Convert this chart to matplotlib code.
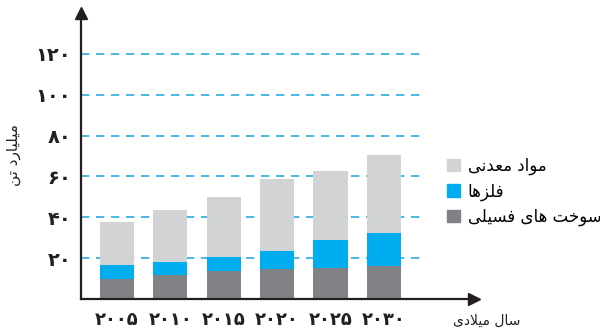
import matplotlib
matplotlib.use('Agg')
import matplotlib.pyplot as plt
from matplotlib.patches import Patch
import numpy as np

# values (billion tonnes)
years = ['2005', '2010', '2015', '2020', '2025', '2030']
fossil = [10.0, 11.6, 13.6, 14.7, 15.2, 16.0]
metals = [6.7, 6.4, 6.8, 9.0, 13.6, 16.4]
minerals = [21.2, 25.6, 29.7, 35.1, 34.1, 38.3]
yticks = [20, 40, 60, 80, 100, 120]

label_minerals = 'مواد معدنی'
label_metals = 'فلزها'
label_fossil = 'سوخت های فسیلی'
ylabel = 'میلیارد تن'
xlabel = 'سال میلادی'

c_fossil = '#808285'
c_metals = '#00AEEF'
c_minerals = '#D1D3D4'
c_grid = '#29ABE2'

# simple persian shaping (matplotlib has no bidi / joining)
forms = {
    'ا': ('\uFE8D', '\uFE8E', None, None),
    'د': ('\uFEA9', '\uFEAA', None, None),
    'ر': ('\uFEAD', '\uFEAE', None, None),
    'ز': ('\uFEAF', '\uFEB0', None, None),
    'و': ('\uFEED', '\uFEEE', None, None),
    'ت': ('\uFE95', '\uFE96', '\uFE97', '\uFE98'),
    'خ': ('\uFEA5', '\uFEA6', '\uFEA7', '\uFEA8'),
    'س': ('\uFEB1', '\uFEB2', '\uFEB3', '\uFEB4'),
    'ع': ('\uFEC9', '\uFECA', '\uFECB', '\uFECC'),
    'ف': ('\uFED1', '\uFED2', '\uFED3', '\uFED4'),
    'ل': ('\uFEDD', '\uFEDE', '\uFEDF', '\uFEE0'),
    'م': ('\uFEE1', '\uFEE2', '\uFEE3', '\uFEE4'),
    'ن': ('\uFEE5', '\uFEE6', '\uFEE7', '\uFEE8'),
    'ه': ('\uFEE9', '\uFEEA', '\uFEEB', '\uFEEC'),
    'ی': ('\uFBFC', '\uFBFD', '\uFBFE', '\uFBFF'),
}


def dual(c):
    return c in forms and forms[c][2] is not None


def shape(text):
    res = []
    i = 0
    n = len(text)
    while i < n:
        c = text[i]
        if c not in forms:
            res.append(c)
            i += 1
            continue
        link_prev = i > 0 and dual(text[i - 1])
        if c == 'ل' and i + 1 < n and text[i + 1] == 'ا':
            res.append('\uFEFC' if link_prev else '\uFEFB')
            i += 2
            continue
        link_next = dual(c) and i + 1 < n and text[i + 1] in forms
        iso, fin, ini, med = forms[c]
        if link_prev and link_next:
            g = med
        elif link_prev:
            g = fin
        elif link_next:
            g = ini
        else:
            g = iso
        res.append(g)
        i += 1
    return ''.join(reversed(res))


fa_digits = str.maketrans('0123456789', '۰۱۲۳۴۵۶۷۸۹')


def fa(s):
    return str(s).translate(fa_digits)


plt.rcParams['font.family'] = ['DejaVu Sans']

fig = plt.figure(figsize=(6, 3.29), dpi=100)
ax = fig.add_axes([0.135, 0.0912, 0.655, 0.869])

x = np.arange(len(years))
w = 0.64
bottom2 = np.array(fossil) + np.array(metals)

for yv in yticks:
    ax.plot([-0.674, 5.67], [yv, yv], color=c_grid, lw=1.2, dashes=(5, 4), zorder=1)

ax.bar(x, fossil, w, color=c_fossil, zorder=2)
ax.bar(x, metals, w, bottom=fossil, color=c_metals, zorder=2)
ax.bar(x, minerals, w, bottom=bottom2, color=c_minerals, zorder=2)

ax.set_xlim(-0.674, 6.69)
ax.set_ylim(0, 140)

ax.spines['top'].set_visible(False)
ax.spines['right'].set_visible(False)
for s in ['left', 'bottom']:
    ax.spines[s].set_linewidth(1.6)
    ax.spines[s].set_color('#231F20')

# arrow heads
ax.plot(1, 0, marker='>', color='#231F20', ms=8, transform=ax.transAxes, clip_on=False)
ax.plot(0, 1, marker='^', color='#231F20', ms=8, transform=ax.transAxes, clip_on=False)

ax.set_yticks(yticks)
ax.set_yticklabels([fa(v) for v in yticks], fontsize=14, fontweight='bold', color='#231F20')
ax.set_xticks(x)
ax.set_xticklabels([fa(y) for y in years], fontsize=13, fontweight='bold', color='#231F20')
ax.tick_params(axis='y', length=0, pad=7)
ax.tick_params(axis='x', length=0, pad=9)

fig.text(0.022, 0.53, shape(ylabel), rotation=90, ha='center', va='center', fontsize=11, color='#231F20')
fig.text(0.755, 0.003, shape(xlabel), ha='left', va='bottom', fontsize=10, color='#231F20')

handles = [Patch(color=c_minerals), Patch(color=c_metals), Patch(color=c_fossil)]
labels = [shape(label_minerals), shape(label_metals), shape(label_fossil)]
fig.legend(handles, labels, loc='upper left', bbox_to_anchor=(0.72, 0.57),
           frameon=False, fontsize=12, handlelength=0.75, handleheight=0.75,
           handletextpad=0.5, labelspacing=0.45)

fig.savefig('out.png', dpi=100)
